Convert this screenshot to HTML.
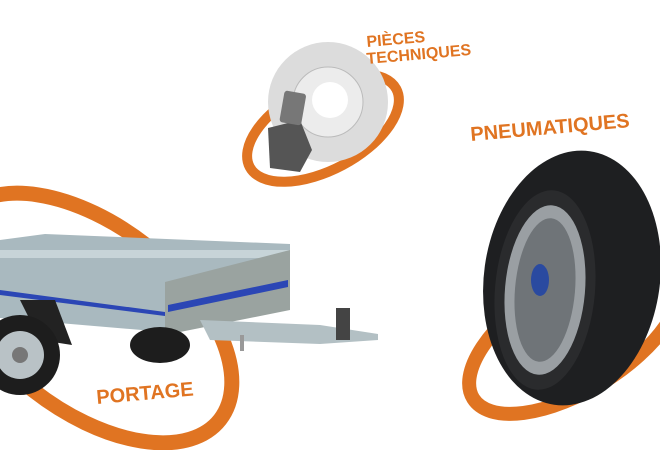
<!DOCTYPE html>
<html><head><meta charset="utf-8"><style>
html,body{margin:0;padding:0;background:#fff;width:660px;height:463px;overflow:hidden;position:relative}
svg{display:block;position:absolute;left:0;top:0}
text{font-family:"Liberation Sans",sans-serif;font-weight:bold;fill:#e07422}
</style></head><body>
<svg width="660" height="463" viewBox="0 0 660 463">
<defs><clipPath id="c"><rect x="0" y="0" width="660" height="450"/></clipPath></defs>
<!-- rings -->
<g clip-path="url(#c)">
<ellipse cx="90" cy="318" rx="165" ry="92" transform="rotate(38 90 318)" fill="none" stroke="#e07422" stroke-width="15"/>
</g>
<ellipse cx="323" cy="128" rx="83" ry="42" transform="rotate(-28 323 128)" fill="none" stroke="#e07422" stroke-width="10"/>
<ellipse cx="575" cy="335" rx="120" ry="55" transform="rotate(-32 575 335)" fill="none" stroke="#e07422" stroke-width="14"/>

<!-- brake disc -->
<circle cx="328" cy="102" r="60" fill="#dcdcdc"/>
<circle cx="328" cy="102" r="35" fill="#ececec" stroke="#bbb"/>
<circle cx="330" cy="100" r="18" fill="#fff"/>
<path d="M268 128 L300 120 L312 150 L300 172 L270 168 Z" fill="#555"/>
<rect x="282" y="92" width="22" height="32" rx="3" fill="#777" transform="rotate(10 293 107)"/>

<!-- trailer -->
<path d="M0 240 L45 234 L290 244 L290 300 L165 332 L0 318 Z" fill="#a9b9bf"/>
<path d="M0 250 L290 250 L290 258 L0 258 Z" fill="#c7d4d8"/>
<path d="M165 282 L290 250 L290 310 L165 335 Z" fill="#9aa3a0"/>
<path d="M0 290 L165 312 L165 316 L0 295Z" fill="#2b46b5"/>
<path d="M168 305 L288 280 L288 287 L168 312Z" fill="#2b46b5"/>
<path d="M200 320 L320 325 L378 334 L378 340 L320 344 L210 340 Z" fill="#b3c0c4"/>
<rect x="336" y="308" width="14" height="32" fill="#444"/>
<rect x="240" y="335" width="4" height="16" fill="#999"/>
<path d="M20 300 L55 300 L72 345 L40 340 Z" fill="#222"/>
<circle cx="20" cy="355" r="40" fill="#1d1d1d"/>
<circle cx="20" cy="355" r="24" fill="#b9c2c6"/>
<circle cx="20" cy="355" r="8" fill="#777"/>
<ellipse cx="160" cy="345" rx="30" ry="18" fill="#1d1d1d"/>

<!-- tire -->
<ellipse cx="572" cy="278" rx="88" ry="128" transform="rotate(8 572 278)" fill="#1e1f21"/>
<ellipse cx="545" cy="290" rx="50" ry="100" transform="rotate(5 545 290)" fill="#2a2b2d"/>
<ellipse cx="545" cy="290" rx="40" ry="85" transform="rotate(5 545 290)" fill="#9a9fa3"/>
<ellipse cx="545" cy="290" rx="30" ry="72" transform="rotate(5 545 290)" fill="#6f7478"/>
<ellipse cx="540" cy="280" rx="9" ry="16" fill="#2a4aa0"/>

<!-- labels -->
<text x="367" y="47" font-size="16" transform="rotate(-5 367 47)">PIÈCES</text>
<text x="367" y="64" font-size="16" transform="rotate(-5 367 64)">TECHNIQUES</text>
<text x="471" y="141" font-size="20" transform="rotate(-5 471 141)">PNEUMATIQUES</text>
<text x="97" y="404" font-size="20" transform="rotate(-5 97 404)">PORTAGE</text>
</svg>
</body></html>
